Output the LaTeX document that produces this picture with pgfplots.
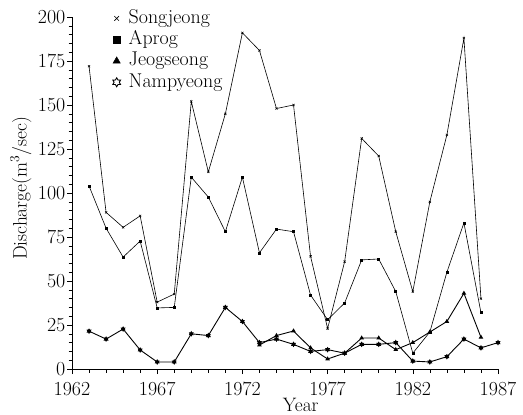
\documentclass[border=0pt]{standalone}
\usepackage{pgfplots}
\pgfplotsset{compat=1.18}
\usetikzlibrary{plotmarks}
\pgfdeclareplotmark{ostar}{%
  \pgfpathmoveto{\pgfpointpolar{90}{\pgfplotmarksize}}%
  \pgfpathlineto{\pgfpointpolar{120}{0.58\pgfplotmarksize}}%
  \pgfpathlineto{\pgfpointpolar{150}{\pgfplotmarksize}}%
  \pgfpathlineto{\pgfpointpolar{180}{0.58\pgfplotmarksize}}%
  \pgfpathlineto{\pgfpointpolar{210}{\pgfplotmarksize}}%
  \pgfpathlineto{\pgfpointpolar{240}{0.58\pgfplotmarksize}}%
  \pgfpathlineto{\pgfpointpolar{270}{\pgfplotmarksize}}%
  \pgfpathlineto{\pgfpointpolar{300}{0.58\pgfplotmarksize}}%
  \pgfpathlineto{\pgfpointpolar{330}{\pgfplotmarksize}}%
  \pgfpathlineto{\pgfpointpolar{0}{0.58\pgfplotmarksize}}%
  \pgfpathlineto{\pgfpointpolar{30}{\pgfplotmarksize}}%
  \pgfpathlineto{\pgfpointpolar{60}{0.58\pgfplotmarksize}}%
  \pgfpathclose
  \pgfusepathqfillstroke}
\begin{document}
\fontsize{20}{22}\selectfont
\begin{tikzpicture}
\begin{axis}[
  at={(0,0)}, anchor=south west,
  scale only axis, width=426bp, height=352bp,
  xmin=1962, xmax=1987, ymin=0, ymax=200,
  axis x line*=bottom, axis y line*=left,
  xtick={1962,1967,...,1987}, ytick={0,25,...,200},
  minor x tick num=4, minor y tick num=4,
  tick align=outside,
  major tick length=5bp, minor tick length=3.5bp,
  every tick/.style={black, line width=0.6pt},
  axis line style={line width=0.7pt},
  /pgf/number format/assume math mode=true,
  xticklabel style={/pgf/number format/1000 sep={}, inner xsep=1bp, inner ysep=0pt, yshift=-8bp},
  tick label style={font=\fontsize{20}{22}\selectfont},
  yticklabel style={inner xsep=1.5bp, inner ysep=0pt},
  xlabel={Year}, ylabel={Discharge(m\textsuperscript{3}/sec)},
  label style={font=\fontsize{19.5}{21}\selectfont},
  xlabel style={at={(axis description cs:0.537,-0.101)}, anchor=center},
  ylabel style={at={(axis description cs:-0.12,0.513)}, anchor=center},
  legend style={at={(axis description cs:0.09,1.025)}, anchor=north west,
    draw=none, fill=none, inner sep=0pt, row sep=1.3bp,
    font=\fontsize{20}{22}\selectfont,
    nodes={inner sep=0.75bp, text height=14bp, text depth=4.5bp}},
  legend cell align=left,
  legend image code/.code={\path (0cm,0cm) (0.6cm,0cm); \draw[#1] plot coordinates {(0.21cm,0cm)};},
]
\addlegendimage{only marks, mark=x, mark size=3.3pt, mark options={line width=0.6pt}}
\addlegendentry{Songjeong}
\addlegendimage{only marks, mark=square*, mark size=3.5pt}
\addlegendentry{Aprog}
\addlegendimage{only marks, mark=triangle*, mark size=4.2pt}
\addlegendentry{Jeogseong}
\addlegendimage{only marks, mark=ostar, mark size=4.5pt, mark options={fill=white, line width=0.9pt}}
\addlegendentry{Nampyeong}

% Songjeong
\addplot[black, line width=0.6pt, mark=x, mark size=1.5pt] coordinates {
(1963,172)(1964,89)(1965,80.5)(1966,87)(1967,38)(1968,42.6)(1969,152)(1970,112)
(1971,145)(1972,191)(1973,181)(1974,148)(1975,150)(1976,64)(1977,23)(1978,61)
(1979,131)(1980,121)(1981,78)(1982,44)(1983,95)(1984,133)(1985,188)(1986,40)};
% Aprog
\addplot[black, line width=0.6pt, mark=square*, mark size=1pt] coordinates {
(1963,104)(1964,80)(1965,63.6)(1966,72.7)(1967,34.7)(1968,35)(1969,109)(1970,97.7)
(1971,78)(1972,109)(1973,66)(1974,79.5)(1975,78)(1976,42)(1977,28)(1978,37.5)
(1979,62)(1980,62.5)(1981,44)(1982,9)(1983,21)(1984,55)(1985,83)(1986,32)};
% Jeogseong
\addplot[black, line width=0.9pt, mark=triangle*, mark size=1.8pt] coordinates {
(1973,13.6)(1974,19)(1975,21.6)(1976,12)(1977,5.7)(1978,9)(1979,17.6)(1980,17.6)
(1981,11)(1982,15)(1983,21)(1984,27)(1985,43)(1986,18)};
% Nampyeong
\addplot[black, line width=0.9pt, mark=ostar, mark size=2pt, mark options={fill=black}] coordinates {
(1963,21.5)(1964,17)(1965,22.7)(1966,10.8)(1967,4)(1968,4)(1969,20)(1970,19)
(1971,35)(1972,27)(1973,15)(1974,17)(1975,14)(1976,10)(1977,11)(1978,9)
(1979,14)(1980,14)(1981,15)(1982,4.5)(1983,4)(1984,7)(1985,17)(1986,12)(1987,15)};
\end{axis}
\pgfresetboundingbox
\useasboundingbox (-72bp,-46bp) rectangle (451bp,369bp);
\end{tikzpicture}
\end{document}
